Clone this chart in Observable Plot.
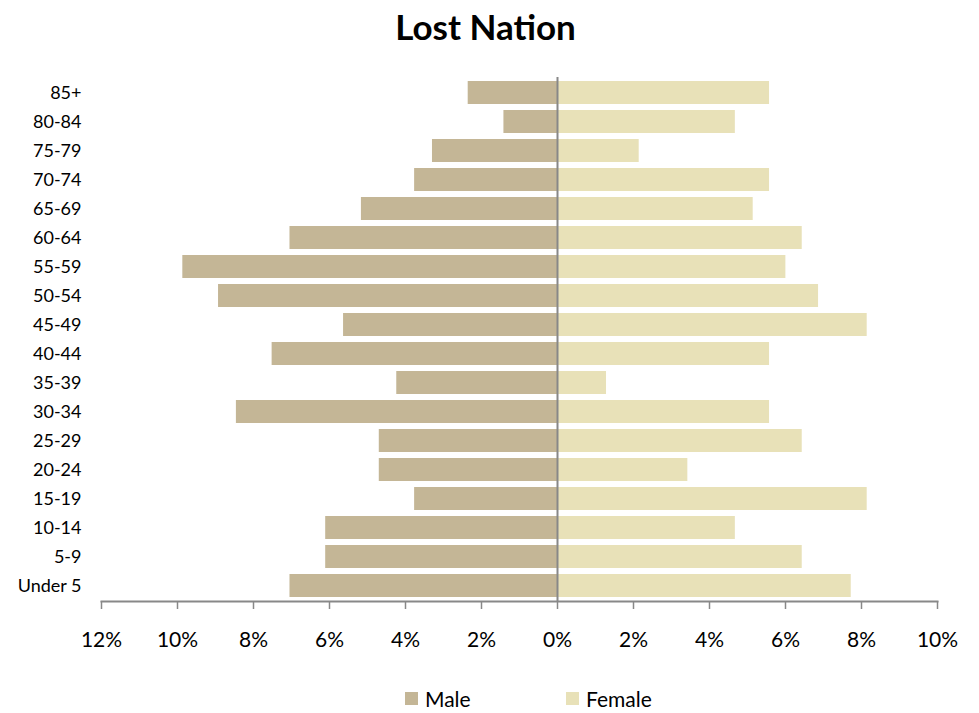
<!DOCTYPE html>
<html>
<head>
<meta charset="utf-8">
<script src="https://cdn.jsdelivr.net/npm/d3@7"></script>
<script src="https://cdn.jsdelivr.net/npm/@observablehq/plot@0.6"></script>
<style>
  body { margin: 0; background: #fff; font-family: Lato, "Open Sans", sans-serif; }
  #wrap { width: 979px; }
  #title { height: 52px; line-height: 52px; text-align: center; font-weight: bold; font-size: 35px; color: #000; padding-right: 8px; box-sizing: border-box; }
  #legend { position: relative; height: 26px; margin-top: 29px; font-size: 21px; color: #000; }
  .item { position: absolute; top: 0; display: flex; align-items: center; height: 26px; }
  .sw { width: 13px; height: 13px; margin-right: 7px; }
</style>
</head>
<body>
<div id="wrap">
  <div id="title">Lost Nation</div>
  <div id="chart"></div>
  <div id="legend"></div>
</div>
<script>
const ages = ["Under 5","5-9","10-14","15-19","20-24","25-29","30-34","35-39","40-44","45-49","50-54","55-59","60-64","65-69","70-74","75-79","80-84","85+"];
const male = [7.04, 6.10, 6.10, 3.76, 4.69, 4.69, 8.45, 4.23, 7.51, 5.63, 8.92, 9.86, 7.04, 5.16, 3.76, 3.29, 1.41, 2.35];
const female = [7.73, 6.44, 4.68, 8.15, 3.43, 6.44, 5.58, 1.29, 5.58, 8.15, 6.87, 6.01, 6.44, 5.15, 5.58, 2.15, 4.68, 5.58];
const xTicks = [-12, -10, -8, -6, -4, -2, 0, 2, 4, 6, 8, 10];
const seriesNames = ["Male", "Female"];
const colors = ["#C4B696", "#E8E1B8"];

const rows = ages.map((a, i) => ({age: a, male: male[i], female: female[i]}));

const chart = Plot.plot({
  width: 979,
  height: 604,
  marginLeft: 101,
  marginRight: 42,
  marginTop: 25,
  marginBottom: 55,
  style: {fontFamily: "Lato, 'Open Sans', sans-serif", color: "#000", background: "#fff"},
  x: {domain: [-12, 10], label: null},
  y: {domain: ages.slice().reverse(), paddingInner: 0.21, paddingOuter: 0.09, label: null},
  marks: [
    Plot.barX(rows, {x: d => -d.male, y: "age", fill: colors[0]}),
    Plot.barX(rows, {x: "female", y: "age", fill: colors[1]}),
    Plot.ruleX([0], {stroke: "#888", strokeWidth: 2}),
    Plot.frame({anchor: "bottom", stroke: "#888", strokeWidth: 2}),
    Plot.axisX({ticks: xTicks, tickFormat: d => Math.abs(d) + "%", tickSize: 8, tickPadding: 23, stroke: "#888", strokeWidth: 1.5, fontSize: 21, fill: "#000", label: null}),
    Plot.axisY({tickSize: 0, tickPadding: 20, fontSize: 18, fill: "#000", label: null})
  ]
});
document.getElementById("chart").appendChild(chart);

const legend = document.getElementById("legend");
const lefts = [405, 566];
seriesNames.forEach((n, i) => {
  const it = document.createElement("div");
  it.className = "item";
  it.style.left = lefts[i] + "px";
  it.innerHTML = `<div class="sw" style="background:${colors[i]}"></div><span>${n}</span>`;
  legend.appendChild(it);
});
</script>
</body>
</html>
